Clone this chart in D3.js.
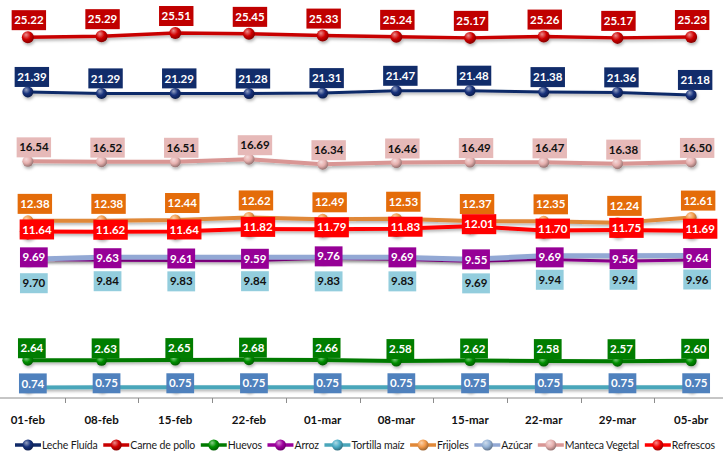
<!DOCTYPE html>
<html>
<head>
<meta charset="utf-8">
<script src="https://cdn.jsdelivr.net/npm/d3@7"></script>
<style>
  body { margin: 0; background: #fff; }
  svg { display: block; }
</style>
</head>
<body>
<svg id="chart" width="723" height="453"></svg>
<script>
var dates = ['01-feb', '08-feb', '15-feb', '22-feb', '01-mar', '08-mar', '15-mar', '22-mar', '29-mar', '05-abr'];

var leche     = [21.39, 21.29, 21.29, 21.28, 21.31, 21.47, 21.48, 21.38, 21.36, 21.18];
var carne     = [25.22, 25.29, 25.51, 25.45, 25.33, 25.24, 25.17, 25.26, 25.17, 25.23];
var huevos    = [2.64, 2.63, 2.65, 2.68, 2.66, 2.58, 2.62, 2.58, 2.57, 2.60];
var arroz     = [9.69, 9.63, 9.61, 9.59, 9.76, 9.69, 9.55, 9.69, 9.56, 9.64];
var tortilla  = [0.74, 0.75, 0.75, 0.75, 0.75, 0.75, 0.75, 0.75, 0.75, 0.75];
var frijoles  = [12.38, 12.38, 12.44, 12.62, 12.49, 12.53, 12.37, 12.35, 12.24, 12.61];
var azucar    = [9.70, 9.84, 9.83, 9.84, 9.83, 9.83, 9.69, 9.94, 9.94, 9.96];
var manteca   = [16.54, 16.52, 16.51, 16.69, 16.34, 16.46, 16.49, 16.47, 16.38, 16.50];
var refrescos = [11.64, 11.62, 11.64, 11.82, 11.79, 11.83, 12.01, 11.70, 11.75, 11.69];

var seriesNames = ['Leche Fluída', 'Carne de pollo', 'Huevos', 'Arroz', 'Tortilla maíz', 'Frijoles', 'Azúcar', 'Manteca Vegetal', 'Refrescos'];
var seriesValues = [leche, carne, huevos, arroz, tortilla, frijoles, azucar, manteca, refrescos];

// look of each series (same order as seriesNames)
var styles = [
    { line: '#102a68', marker: '#15307a', box: '#112c6a', text: '#fff', r: 5.5, w: 3,   dx: 4, dy: -15 },
    { line: '#c80000', marker: '#d00000', box: '#c00000', text: '#fff', r: 6,   w: 3.5, dx: 1, dy: -17 },
    { line: '#007a00', marker: '#009000', box: '#007d00', text: '#fff', r: 5.5, w: 4,   dx: 4, dy: -12 },
    { line: '#990099', marker: '#a000a0', box: '#960096', text: '#fff', r: 5,   w: 3,   dx: 6, dy: -2 },
    { line: '#4aa6ba', marker: '#4bacc6', box: '#4f81bd', text: '#fff', r: 5,   w: 4,   dx: 5, dy: -4 },
    { line: '#e08838', marker: '#f29a4a', box: '#e46c0a', text: '#fff', r: 5.5, w: 4,   dx: 7, dy: -17 },
    { line: '#92a8d4', marker: '#95b3d7', box: '#93cddd', text: '#111', r: 5,   w: 5,   dx: 6, dy: 24 },
    { line: '#d99694', marker: '#e6b0ae', box: '#e6b9b8', text: '#111', r: 5.5, w: 4,   dx: 6, dy: -14 },
    { line: '#ff0000', marker: '#f00000', box: '#ff0000', text: '#fff', r: 8,   w: 4,   dx: 9, dy: -2 }
];

var width = 723, height = 453;
var svg = d3.select('#chart');

var x = d3.scaleBand()
    .domain(dates)
    .range([-9, 728]);

var y = d3.scaleLinear()
    .domain([0, 26])
    .range([398, 26]);

function cx(d) { return x(d) + x.bandwidth() / 2; }

var defs = svg.append('defs');

var shadow = defs.append('filter')
    .attr('id', 'shadow')
    .attr('x', '-20%').attr('y', '-50%')
    .attr('width', '140%').attr('height', '200%');
shadow.append('feDropShadow')
    .attr('dx', 1).attr('dy', 2)
    .attr('stdDeviation', 1.5)
    .attr('flood-color', '#000')
    .attr('flood-opacity', 0.3);

// sphere look for markers
styles.forEach(function (s, i) {
    var g = defs.append('radialGradient')
        .attr('id', 'ball' + i)
        .attr('cx', '40%').attr('cy', '35%').attr('r', '65%')
        .attr('fx', '35%').attr('fy', '30%');
    g.append('stop').attr('offset', '0%').attr('stop-color', d3.interpolateRgb(s.marker, '#fff')(0.55));
    g.append('stop').attr('offset', '55%').attr('stop-color', s.marker);
    g.append('stop').attr('offset', '100%').attr('stop-color', d3.interpolateRgb(s.marker, '#000')(0.35));
});

// x axis
var axis = svg.append('g');
axis.append('line')
    .attr('x1', 0).attr('x2', width)
    .attr('y1', y(0)).attr('y2', y(0))
    .attr('stroke', '#8c8c8c')
    .attr('stroke-width', 1);

axis.selectAll('.tick')
    .data(dates.slice(1))
    .enter()
    .append('line')
    .attr('class', 'tick')
    .attr('x1', function (d) { return Math.round(x(d)) + 0.5; })
    .attr('x2', function (d) { return Math.round(x(d)) + 0.5; })
    .attr('y1', y(0))
    .attr('y2', y(0) + 5)
    .attr('stroke', '#8c8c8c');

axis.selectAll('.xlabel')
    .data(dates)
    .enter()
    .append('text')
    .attr('class', 'xlabel')
    .attr('x', cx)
    .attr('y', 424)
    .attr('text-anchor', 'middle')
    .style('font-family', 'Lato, sans-serif')
    .style('font-weight', 'bold')
    .style('font-size', '11.5px')
    .style('fill', '#111')
    .text(function (d) { return d; });

var line = d3.line()
    .x(function (d, i) { return cx(dates[i]); })
    .y(function (d) { return y(d); });

// lines + markers, drawn in legend order
var seriesG = svg.selectAll('.series')
    .data(seriesValues)
    .enter()
    .append('g')
    .attr('class', 'series')
    .attr('filter', 'url(#shadow)');

seriesG.append('path')
    .attr('d', function (d) { return line(d); })
    .attr('fill', 'none')
    .attr('stroke', function (d, i) { return styles[i].line; })
    .attr('stroke-width', function (d, i) { return styles[i].w; })
    .attr('stroke-linejoin', 'round');

seriesG.each(function (vals, si) {
    d3.select(this).selectAll('circle')
        .data(vals)
        .enter()
        .append('circle')
        .attr('cx', function (d, i) { return cx(dates[i]); })
        .attr('cy', function (d) { return y(d); })
        .attr('r', styles[si].r)
        .attr('fill', 'url(#ball' + si + ')');
});

// data labels on top of everything
var labelsG = svg.append('g').attr('class', 'labels');
seriesValues.forEach(function (vals, si) {
    var s = styles[si];
    vals.forEach(function (v, i) {
        var g = labelsG.append('g')
            .attr('transform', 'translate(' + [cx(dates[i]) + s.dx, y(v) + s.dy] + ')');
        var t = g.append('text')
            .attr('text-anchor', 'middle')
            .attr('dy', '0.36em')
            .style('font-family', 'Lato, sans-serif')
            .style('font-weight', 'bold')
            .style('font-size', '11.5px')
            .style('fill', s.text)
            .text(v.toFixed(2));
        var bw = t.node().getComputedTextLength() + 5;
        g.insert('rect', 'text')
            .attr('x', -bw / 2)
            .attr('y', -10)
            .attr('width', bw)
            .attr('height', 20)
            .attr('fill', s.box);
    });
});

// legend
var legend = svg.append('g').attr('class', 'legend');
var items = legend.selectAll('.item')
    .data(seriesNames)
    .enter()
    .append('g')
    .attr('class', 'item');

items.append('line')
    .attr('x1', 0).attr('x2', 26)
    .attr('y1', 0).attr('y2', 0)
    .attr('stroke', function (d, i) { return styles[i].line; })
    .attr('stroke-width', 3.5);

items.append('circle')
    .attr('cx', 13).attr('cy', 0)
    .attr('r', 5.5)
    .attr('fill', function (d, i) { return 'url(#ball' + i + ')'; });

items.append('text')
    .attr('x', 27)
    .attr('dy', '0.35em')
    .style('font-family', 'Lato, sans-serif')
    .style('font-size', '10.5px')
    .style('letter-spacing', '-0.15px')
    .style('fill', '#1a1a1a')
    .text(function (d) { return d; });

var widths = [];
items.each(function () {
    widths.push(27 + d3.select(this).select('text').node().getComputedTextLength());
});
var gap = 7;
var total = d3.sum(widths) + gap * (widths.length - 1);
// keep the legend inside 15..715 like the reference
if (total > 700) {
    gap = Math.max(3, gap - (total - 700) / (widths.length - 1));
    total = d3.sum(widths) + gap * (widths.length - 1);
}
var lx = 365 - total / 2;
items.attr('transform', function (d, i) {
    var tx = lx;
    lx += widths[i] + gap;
    return 'translate(' + [tx, 445] + ')';
});
</script>
</body>
</html>
